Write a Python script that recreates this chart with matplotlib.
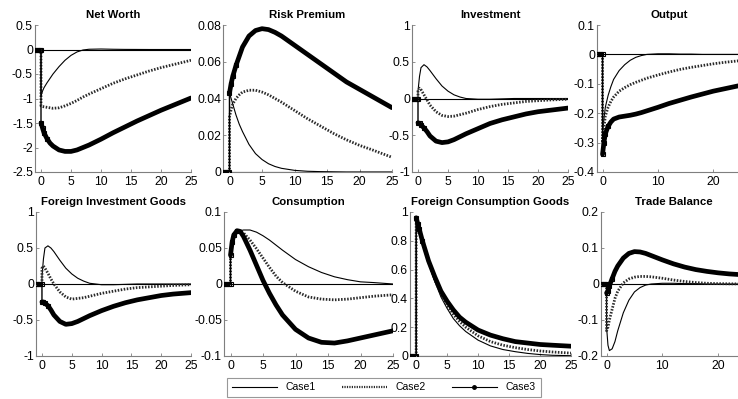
import matplotlib
matplotlib.use("Agg")
import matplotlib.pyplot as plt
from matplotlib.lines import Line2D
from matplotlib.ticker import FuncFormatter

plt.rcParams['font.family'] = ['Liberation Sans', 'DejaVu Sans']
plt.rcParams['axes.unicode_minus'] = False

# ---- data ----
PRE_T = [-1, -0.75, -0.5, -0.25, 0]
POST_T = [0, 0.25, 0.5, 1, 1.5, 2, 3, 4, 5, 6, 7, 8, 10, 12, 14, 16, 18, 20, 22, 25]
PRE_V = [0, 0, 0, 0, 0]

titles = ["Net Worth", "Risk Premium", "Investment", "Output",
          "Foreign Investment Goods", "Consumption", "Foreign Consumption Goods", "Trade Balance"]
case_names = ["Case1", "Case2", "Case3"]

net_worth_c1 = [-0.95, -0.85, -0.78, -0.68, -0.59, -0.5, -0.35, -0.22, -0.12, -0.05, -0.01, 0.005, 0.01, 0.005, 0.002, 0.001, 0, 0, 0, 0]
net_worth_c2 = [-1.15, -1.16, -1.17, -1.18, -1.19, -1.2, -1.19, -1.15, -1.1, -1.04, -0.97, -0.91, -0.8, -0.69, -0.6, -0.52, -0.44, -0.37, -0.31, -0.22]
net_worth_c3 = [-1.5, -1.6, -1.7, -1.82, -1.91, -1.97, -2.05, -2.08, -2.08, -2.05, -2.0, -1.95, -1.83, -1.7, -1.58, -1.46, -1.35, -1.24, -1.14, -0.99]

risk_c1 = [0.043, 0.04, 0.037, 0.031, 0.026, 0.022, 0.015, 0.01, 0.0068, 0.0045, 0.003, 0.002, 0.0009, 0.0004, 0.0002, 0.0001, 0, 0, 0, 0]
risk_c2 = [0.03, 0.034, 0.037, 0.04, 0.042, 0.0435, 0.0445, 0.0445, 0.0435, 0.042, 0.04, 0.038, 0.0335, 0.029, 0.025, 0.021, 0.0175, 0.0145, 0.012, 0.008]
risk_c3 = [0.043, 0.048, 0.052, 0.058, 0.063, 0.068, 0.074, 0.077, 0.078, 0.0775, 0.076, 0.074, 0.069, 0.064, 0.059, 0.054, 0.049, 0.045, 0.041, 0.035]

inv_c1 = [0.1, 0.3, 0.42, 0.46, 0.43, 0.38, 0.27, 0.17, 0.1, 0.05, 0.02, 0.0, -0.01, -0.01, -0.005, 0, 0, 0, 0, 0]
inv_c2 = [0.1, 0.14, 0.12, 0.05, -0.02, -0.09, -0.18, -0.23, -0.245, -0.24, -0.22, -0.2, -0.15, -0.11, -0.08, -0.06, -0.04, -0.03, -0.02, -0.01]
inv_c3 = [-0.33, -0.34, -0.36, -0.4, -0.45, -0.51, -0.58, -0.6, -0.59, -0.56, -0.52, -0.48, -0.41, -0.34, -0.29, -0.25, -0.21, -0.18, -0.16, -0.13]

out_c1 = [-0.27, -0.22, -0.18, -0.14, -0.11, -0.085, -0.055, -0.035, -0.02, -0.01, -0.004, 0, 0.002, 0.002, 0.001, 0.001, 0, 0, 0, 0]
out_c2 = [-0.3, -0.25, -0.21, -0.18, -0.16, -0.145, -0.125, -0.113, -0.103, -0.095, -0.088, -0.081, -0.07, -0.06, -0.051, -0.044, -0.038, -0.032, -0.027, -0.021]
out_c3 = [-0.34, -0.3, -0.27, -0.245, -0.23, -0.22, -0.213, -0.21, -0.207, -0.203, -0.198, -0.192, -0.18, -0.167, -0.156, -0.145, -0.135, -0.125, -0.117, -0.105]

fig_c1 = [0.1, 0.35, 0.5, 0.53, 0.5, 0.45, 0.33, 0.22, 0.14, 0.08, 0.04, 0.01, -0.01, -0.01, -0.005, 0, 0, 0, 0, 0]
fig_c2 = [0.22, 0.25, 0.22, 0.15, 0.07, 0.0, -0.11, -0.18, -0.21, -0.2, -0.19, -0.17, -0.13, -0.1, -0.07, -0.05, -0.04, -0.03, -0.02, -0.01]
fig_c3 = [-0.25, -0.25, -0.27, -0.3, -0.36, -0.43, -0.52, -0.56, -0.55, -0.52, -0.48, -0.44, -0.37, -0.31, -0.26, -0.22, -0.19, -0.16, -0.14, -0.12]

cons_c1 = [0.04, 0.055, 0.064, 0.071, 0.074, 0.075, 0.075, 0.072, 0.067, 0.061, 0.054, 0.047, 0.034, 0.024, 0.016, 0.01, 0.006, 0.003, 0.002, 0.0]
cons_c2 = [0.04, 0.056, 0.066, 0.072, 0.073, 0.071, 0.061, 0.049, 0.036, 0.023, 0.011, 0.002, -0.01, -0.018, -0.021, -0.022, -0.021, -0.019, -0.017, -0.015]
cons_c3 = [0.04, 0.058, 0.068, 0.074, 0.073, 0.066, 0.047, 0.026, 0.005, -0.013, -0.029, -0.043, -0.063, -0.075, -0.081, -0.082, -0.079, -0.075, -0.071, -0.065]

fcg_c1 = [0.96, 0.91, 0.87, 0.79, 0.71, 0.64, 0.52, 0.41, 0.33, 0.26, 0.21, 0.17, 0.11, 0.07, 0.045, 0.03, 0.018, 0.01, 0.005, 0.002]
fcg_c2 = [0.96, 0.92, 0.88, 0.8, 0.72, 0.65, 0.53, 0.43, 0.35, 0.29, 0.24, 0.2, 0.14, 0.1, 0.075, 0.058, 0.045, 0.035, 0.028, 0.02]
fcg_c3 = [0.96, 0.92, 0.88, 0.8, 0.73, 0.66, 0.55, 0.45, 0.38, 0.32, 0.27, 0.235, 0.18, 0.145, 0.12, 0.1, 0.09, 0.08, 0.075, 0.068]

tb_c1 = [-0.12, -0.17, -0.185, -0.18, -0.16, -0.13, -0.08, -0.045, -0.022, -0.01, -0.003, 0.0, 0.002, 0.002, 0.001, 0.001, 0, 0, 0, 0]
tb_c2 = [-0.13, -0.12, -0.1, -0.07, -0.04, -0.02, 0.003, 0.014, 0.019, 0.021, 0.021, 0.02, 0.016, 0.011, 0.007, 0.004, 0.002, 0.001, 0.0005, 0]
tb_c3 = [-0.025, -0.02, -0.005, 0.015, 0.035, 0.05, 0.072, 0.085, 0.09, 0.089, 0.085, 0.079, 0.067, 0.056, 0.047, 0.04, 0.035, 0.031, 0.028, 0.025]

series = [
    (net_worth_c1, net_worth_c2, net_worth_c3),
    (risk_c1, risk_c2, risk_c3),
    (inv_c1, inv_c2, inv_c3),
    (out_c1, out_c2, out_c3),
    (fig_c1, fig_c2, fig_c3),
    (cons_c1, cons_c2, cons_c3),
    (fcg_c1, fcg_c2, fcg_c3),
    (tb_c1, tb_c2, tb_c3),
]

ylims = [(-2.5, 0.5), (0, 0.08), (-1, 1), (-0.4, 0.1),
         (-1, 1), (-0.1, 0.1), (0, 1), (-0.2, 0.2)]
ysteps = [0.5, 0.02, 0.5, 0.1, 0.5, 0.05, 0.2, 0.1]
xticks_std = [0, 5, 10, 15, 20, 25]
xticks_wide = [0, 10, 20]

# axes boxes in pixels: (left, right, top, bottom)
W, H = 738, 399
boxes = [
    (35, 191, 25, 172), (223, 392, 25, 172), (412, 568, 25, 172), (597, 741, 25, 172),
    (36, 191, 212, 356), (224, 393, 212, 356), (410, 571, 212, 356), (601, 746, 212, 356),
]

fig = plt.figure(figsize=(W / 100, H / 100), dpi=100)
gray = '#7f7f7f'
T = PRE_T + POST_T
n_pre = len(PRE_T)

for i in range(8):
    l, r, t, b = boxes[i]
    ax = fig.add_axes([l / W, 1 - b / H, (r - l) / W, (b - t) / H])
    c1, c2, c3 = series[i]
    ax.axhline(0, color='black', lw=0.8, zorder=1)
    ax.plot(T, PRE_V + c1, color='black', lw=0.8, zorder=3)
    ax.plot(T, PRE_V + c2, color='#2a2a2a', lw=2.0, linestyle=(0, (0.55, 0.55)), zorder=4)
    # Case3: thin line with markers at the start, thick line afterwards
    ax.plot(T, PRE_V + c3, color='black', lw=1.0, zorder=5,
            marker='s', ms=3.0, mfc='none', mec='black', mew=0.8,
            markevery=list(range(n_pre + 4)))
    ax.plot(POST_T, c3, color='black', lw=3.4, zorder=5, solid_capstyle='round')
    ax.set_xlim(-1, 25)
    y0, y1 = ylims[i]
    ax.set_ylim(y0, y1)
    n = int(round((y1 - y0) / ysteps[i]))
    ax.set_yticks([y0 + k * ysteps[i] for k in range(n + 1)])
    ax.set_xticks(xticks_wide if i in (3, 7) else xticks_std)
    ax.yaxis.set_major_formatter(FuncFormatter(lambda v, p: ('%g' % round(v, 6))))
    ax.xaxis.set_major_formatter(FuncFormatter(lambda v, p: ('%g' % v)))
    for s in ('top', 'right'):
        ax.spines[s].set_visible(False)
    for s in ('left', 'bottom'):
        ax.spines[s].set_color(gray)
        ax.spines[s].set_linewidth(0.8)
    ax.tick_params(direction='in', length=2.5, width=0.6, color=gray,
                   labelsize=8.8, labelcolor='black')
    ax.tick_params(axis='y', pad=1.5)
    ax.tick_params(axis='x', pad=3)
    ax.set_title(titles[i], fontsize=8.2, fontweight='bold', pad=5)

handles = [
    Line2D([], [], color='black', lw=0.8),
    Line2D([], [], color='#2a2a2a', lw=1.6, linestyle=(0, (0.55, 0.55))),
    Line2D([], [], color='black', lw=0.8, marker='o', ms=2.5),
]
leg = fig.legend(handles, case_names, loc='center', ncol=3,
                 bbox_to_anchor=(384 / W, 1 - 387.5 / H), fontsize=7.5,
                 handlelength=4.3, numpoints=1, columnspacing=2.5, handletextpad=0.85,
                 frameon=True, fancybox=False, borderpad=0.45, borderaxespad=0)
leg.get_frame().set_edgecolor(gray)
leg.get_frame().set_linewidth(0.8)

fig.savefig('out.png', dpi=100)
